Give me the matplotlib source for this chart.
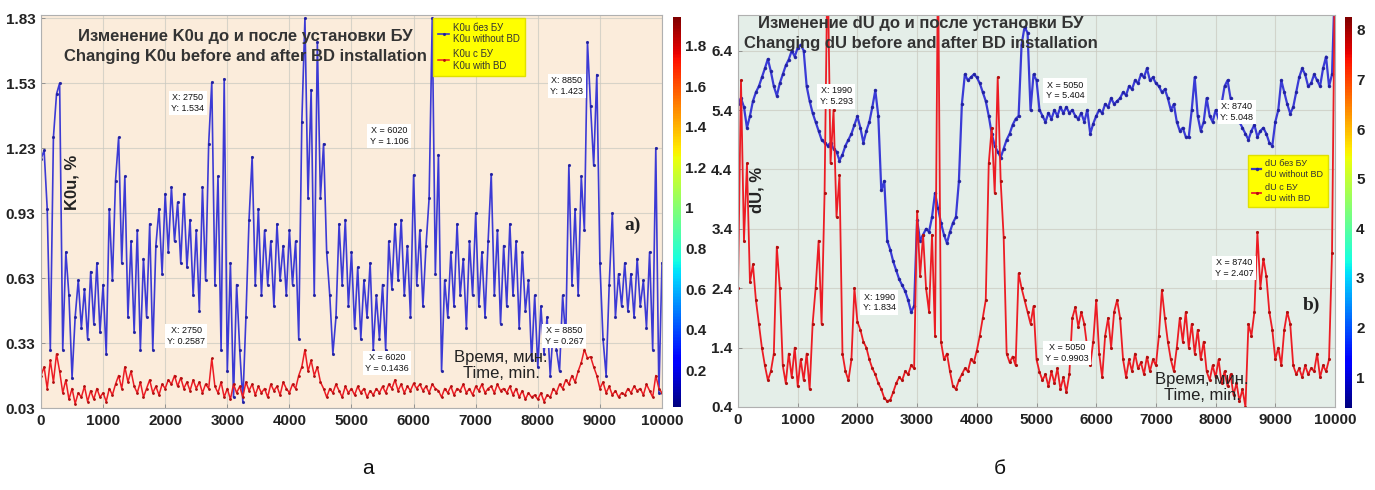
import numpy as np
import matplotlib
matplotlib.use("Agg")
import matplotlib.pyplot as plt
from matplotlib import cm, colors

plt.rcParams["font.family"] = ["Liberation Sans", "DejaVu Sans"]

# time axis, minutes (one reading every 50 min)
time_min = np.arange(0, 10001, 50)

# K0u, % without balancing device (blue)
k0u_without_bd = [
    1.18, 1.22, 0.95, 0.30, 1.28, 1.48, 1.53, 0.30, 0.75, 0.55,
    0.17, 0.45, 0.62, 0.40, 0.58, 0.35, 0.66, 0.42, 0.70, 0.38,
    0.60, 0.28, 0.95, 0.62, 1.08, 1.28, 0.70, 1.10, 0.45, 0.80,
    0.38, 0.85, 0.30, 0.72, 0.45, 0.88, 0.30, 0.78, 0.95, 0.65,
    1.02, 0.75, 1.05, 0.80, 0.98, 0.70, 1.02, 0.68, 0.90, 0.55,
    0.85, 0.48, 1.05, 0.62, 1.25, 1.534, 0.60, 1.10, 0.30, 1.55,
    0.20, 0.70, 0.08, 0.60, 0.30, 0.06, 0.45, 0.90, 1.19, 0.60,
    0.95, 0.55, 0.85, 0.60, 0.80, 0.50, 0.88, 0.62, 0.78, 0.55,
    0.85, 0.60, 0.80, 0.35, 1.35, 1.83, 1.00, 1.50, 0.55, 1.72,
    1.00, 1.25, 0.75, 0.55, 0.28, 0.45, 0.88, 0.60, 0.90, 0.50,
    0.75, 0.40, 0.68, 0.35, 0.62, 0.45, 0.70, 0.30, 0.55, 0.35,
    0.60, 0.30, 0.80, 0.58, 0.88, 0.62, 0.90, 0.55, 0.78, 0.45,
    1.106, 0.60, 0.85, 0.50, 0.78, 1.00, 1.83, 0.65, 1.20, 0.20,
    0.62, 0.45, 0.75, 0.50, 0.88, 0.55, 0.72, 0.40, 0.80, 0.55,
    0.93, 0.50, 0.75, 0.45, 0.80, 1.11, 0.55, 0.85, 0.42, 0.78,
    0.50, 0.88, 0.55, 0.80, 0.40, 0.75, 0.48, 0.62, 0.25, 0.55,
    0.22, 0.50, 0.28, 0.45, 0.18, 0.40, 0.30, 0.20, 0.55, 0.35,
    1.15, 0.60, 0.95, 0.55, 1.10, 0.85, 1.72, 1.423, 1.15, 1.57,
    0.70, 0.35, 0.18, 0.60, 0.93, 0.45, 0.65, 0.50, 0.70, 0.48,
    0.65, 0.45, 0.72, 0.50, 0.62, 0.40, 0.75, 0.30, 1.23, 0.10,
    0.70,
]

# K0u, % with balancing device (red)
k0u_with_bd = [
    0.18, 0.22, 0.12, 0.25, 0.15, 0.28, 0.20, 0.10, 0.16, 0.07,
    0.12, 0.05, 0.10, 0.08, 0.13, 0.06, 0.11, 0.07, 0.12, 0.08,
    0.10, 0.06, 0.12, 0.09, 0.14, 0.18, 0.12, 0.22, 0.15, 0.20,
    0.13, 0.10, 0.15, 0.08, 0.12, 0.16, 0.10, 0.13, 0.09, 0.14,
    0.12, 0.16, 0.14, 0.18, 0.13, 0.17, 0.12, 0.15, 0.11, 0.16,
    0.12, 0.15, 0.10, 0.14, 0.12, 0.2587, 0.13, 0.10, 0.15, 0.08,
    0.12, 0.07, 0.14, 0.10, 0.13, 0.08, 0.15, 0.11, 0.14, 0.09,
    0.13, 0.10, 0.12, 0.08, 0.14, 0.11, 0.13, 0.09, 0.15, 0.12,
    0.10, 0.14, 0.12, 0.18, 0.22, 0.30, 0.20, 0.25, 0.18, 0.22,
    0.15, 0.12, 0.08, 0.12, 0.10, 0.14, 0.11, 0.08, 0.13, 0.10,
    0.12, 0.09, 0.13, 0.10, 0.12, 0.08, 0.11, 0.09, 0.12, 0.10,
    0.13, 0.10, 0.14, 0.12, 0.16, 0.11, 0.14, 0.10, 0.13, 0.11,
    0.1436, 0.12, 0.14, 0.11, 0.13, 0.10, 0.14, 0.12, 0.11, 0.08,
    0.12, 0.10, 0.13, 0.09, 0.12, 0.11, 0.14, 0.10, 0.12, 0.09,
    0.13, 0.11, 0.14, 0.10, 0.12, 0.13, 0.10, 0.14, 0.11, 0.12,
    0.10, 0.13, 0.09, 0.12, 0.08, 0.11, 0.07, 0.10, 0.08, 0.09,
    0.07, 0.10, 0.06, 0.09, 0.08, 0.12, 0.10, 0.14, 0.12, 0.16,
    0.14, 0.18, 0.15, 0.20, 0.24, 0.30, 0.26, 0.267, 0.22, 0.18,
    0.12, 0.15, 0.10, 0.13, 0.09, 0.11, 0.08, 0.10, 0.09, 0.12,
    0.10, 0.13, 0.11, 0.12, 0.09, 0.14, 0.11, 0.08, 0.18, 0.12,
    0.10,
]

# dU, % without balancing device (blue)
du_without_bd = [
    5.50, 5.60, 5.45, 5.10, 5.30, 5.55, 5.70, 5.80, 5.95, 6.10,
    6.26, 6.05, 5.80, 5.64, 5.85, 6.00, 6.15, 6.25, 6.40, 6.30,
    6.45, 6.50, 6.40, 5.80, 5.55, 5.35, 5.20, 5.05, 4.90, 4.85,
    4.80, 4.85, 4.75, 4.70, 4.55, 4.65, 4.80, 4.90, 5.00, 5.15,
    5.293, 5.10, 4.85, 5.05, 5.20, 5.45, 5.73, 5.30, 4.05, 4.20,
    3.20, 3.05, 2.85, 2.70, 2.55, 2.45, 2.35, 2.20, 2.00, 2.10,
    3.55, 3.20, 3.30, 3.40, 3.35, 3.60, 4.00, 3.75, 3.50, 3.30,
    3.16, 3.35, 3.50, 3.60, 4.20, 5.50, 6.00, 5.90, 5.95, 6.00,
    5.95, 5.85, 5.70, 5.55, 5.30, 5.00, 4.80, 4.70, 4.60, 4.75,
    4.90, 5.00, 5.15, 5.25, 5.30, 6.50, 6.80, 6.70, 5.40, 6.00,
    5.90, 5.404, 5.30, 5.20, 5.35, 5.25, 5.40, 5.30, 5.45, 5.35,
    5.45, 5.35, 5.40, 5.30, 5.25, 5.35, 5.20, 5.40, 5.00, 5.17,
    5.30, 5.40, 5.35, 5.50, 5.45, 5.60, 5.50, 5.55, 5.60, 5.70,
    5.65, 5.80, 5.75, 5.90, 5.85, 6.00, 5.95, 6.10, 5.90, 5.95,
    5.85, 5.80, 5.70, 5.75, 5.60, 5.40, 5.50, 5.20, 5.05, 5.10,
    4.95, 4.94, 5.40, 5.95, 5.30, 5.05, 5.20, 5.60, 5.30, 5.20,
    5.40, 5.25, 5.50, 5.80, 5.90, 5.60, 5.45, 5.30, 5.20, 5.10,
    5.00, 4.90, 5.05, 5.15, 4.95, 5.048, 5.10, 5.00, 4.85, 4.80,
    5.20, 5.40, 5.90, 5.70, 5.50, 5.34, 5.45, 5.70, 5.95, 6.10,
    6.00, 5.80, 5.85, 6.00, 5.90, 5.80, 6.10, 6.30, 5.80, 6.00,
    7.60,
]

# dU, % with balancing device (red)
du_with_bd = [
    2.40, 5.90, 3.20, 4.50, 2.50, 2.80, 2.20, 1.80, 1.40, 1.10,
    0.85, 1.00, 1.30, 3.10, 2.40, 1.10, 0.80, 1.30, 0.90, 1.40,
    0.75, 1.20, 0.85, 1.30, 0.70, 1.80, 2.40, 3.20, 1.80, 4.00,
    8.00, 4.50, 5.40, 3.60, 4.30, 1.30, 1.00, 0.85, 1.20, 2.40,
    1.834, 1.70, 1.50, 1.40, 1.20, 1.05, 0.95, 0.80, 0.70, 0.55,
    0.50, 0.52, 0.65, 0.80, 0.90, 0.85, 1.00, 0.95, 1.10, 1.05,
    3.70, 2.60, 3.30, 2.40, 2.00, 3.30, 1.60, 8.00, 1.50, 1.20,
    1.30, 1.00, 0.75, 0.70, 0.85, 0.95, 1.05, 1.00, 1.20, 1.15,
    1.35, 1.60, 1.90, 2.20, 4.50, 5.10, 4.00, 5.95, 4.20, 3.26,
    1.30, 1.15, 1.25, 1.10, 2.65, 2.40, 2.20, 2.00, 1.80, 2.10,
    1.20, 0.9903, 0.85, 0.95, 0.75, 1.00, 0.80, 1.05, 0.70, 0.90,
    0.65, 0.95, 1.90, 2.08, 1.75, 2.00, 1.80, 1.40, 1.10, 1.50,
    2.20, 1.30, 0.90, 1.60, 1.90, 1.40, 2.00, 2.20, 1.90, 1.20,
    0.90, 1.20, 1.00, 1.30, 1.05, 1.15, 0.95, 1.25, 1.00, 1.20,
    1.10, 1.60, 2.37, 1.90, 1.50, 1.20, 1.00, 1.40, 1.90, 1.50,
    2.00, 1.40, 1.80, 1.30, 1.70, 1.20, 1.50, 1.00, 0.85, 1.10,
    0.90, 1.20, 0.80, 1.00, 0.75, 0.95, 0.60, 0.80, 0.50, 0.70,
    0.40, 1.80, 1.60, 2.00, 3.34, 2.407, 2.90, 2.60, 2.00, 1.70,
    1.20, 1.40, 1.10, 1.70, 2.00, 1.80, 1.10, 0.95, 1.05, 0.90,
    1.10, 0.95, 1.05, 1.00, 1.30, 0.90, 1.10, 1.00, 1.20, 3.00,
    8.00,
]

time_ticks = list(range(0, 10001, 1000))
k0u_ticks = [0.03, 0.33, 0.63, 0.93, 1.23, 1.53, 1.83]
du_ticks = [0.4, 1.4, 2.4, 3.4, 4.4, 5.4, 6.4]
k0u_cbar_ticks = [0.2, 0.4, 0.6, 0.8, 1.0, 1.2, 1.4, 1.6, 1.8]
du_cbar_ticks = [1, 2, 3, 4, 5, 6, 7, 8]

k0u_tip_labels = ["X: 2750\nY: 1.534", "X: 2750\nY: 0.2587",
                  "X = 6020\nY = 1.106", "X = 6020\nY = 0.1436",
                  "X: 8850\nY: 1.423", "X = 8850\nY = 0.267"]
du_tip_labels = ["X: 1990\nY: 5.293", "X: 1990\nY: 1.834",
                 "X = 5050\nY = 5.404", "X = 5050\nY = 0.9903",
                 "X: 8740\nY: 5.048", "X = 8740\nY = 2.407"]

BLUE = "#2727d4"
RED = "#ec1c24"
W, H = 1375, 490


def frac(x0, y0, x1, y1):
    # pixel box (top-left origin) -> figure fraction rect
    return [x0 / W, 1 - y1 / H, (x1 - x0) / W, (y1 - y0) / H]


fig = plt.figure(figsize=(13.75, 4.9), dpi=100)
fig.patch.set_facecolor("white")

ax1 = fig.add_axes(frac(41, 15, 662, 408))
ax2 = fig.add_axes(frac(738, 15, 1335, 407))
cax1 = fig.add_axes(frac(673, 17, 681, 407))
cax2 = fig.add_axes(frac(1345, 17, 1352, 408))


def style_axes(ax, face, yticks, yfmt, ylim):
    ax.set_facecolor(face)
    ax.set_xlim(0, 10000)
    ax.set_ylim(*ylim)
    ax.set_xticks(time_ticks)
    ax.set_xticklabels([str(t) for t in time_ticks])
    ax.set_yticks(yticks)
    ax.set_yticklabels([yfmt % v for v in yticks])
    ax.grid(True, color="#c9c9c0", lw=0.8, alpha=0.7)
    ax.set_axisbelow(True)
    ax.tick_params(direction="in", length=3, width=0.6, colors="#888888",
                   labelcolor="#222222", labelsize=11, pad=4)
    for lab in ax.get_xticklabels() + ax.get_yticklabels():
        lab.set_fontweight("bold")
    for s in ax.spines.values():
        s.set_color("#b0b0b0")
        s.set_linewidth(0.8)


# ---- panel a: K0u ----
style_axes(ax1, "#fbecdb", k0u_ticks, "%.2f", (0.03, 1.845))
ax1.plot(time_min, k0u_without_bd, color=BLUE, lw=1.2, alpha=0.9,
         marker=".", ms=2.5, mfc="#2020a0", mec="#2020a0",
         label="K0u без БУ\nK0u without BD")
ax1.plot(time_min, k0u_with_bd, color=RED, lw=1.1,
         marker=".", ms=2, mfc="#b01010", mec="#b01010",
         label="K0u с БУ\nK0u with BD")

ax1.text(3285, 1.70, "Изменение K0u до и после установки БУ\n"
         "Changing K0u before and after BD installation",
         ha="center", va="center", fontsize=12, fontweight="bold",
         color="#333333", linespacing=1.45)
ax1.text(500, 1.07, "K0u, %", rotation=90, ha="center", va="center",
         fontsize=12, fontweight="bold", color="#222222")
ax1.text(7410, 0.228, "Время, мин.\nTime, min.", ha="center", va="center",
         fontsize=12, color="#222222", linespacing=1.1)
ax1.text(9533, 0.875, "a)", ha="center", va="center", fontsize=14,
         fontweight="bold", family="Liberation Serif", color="#222222")

k0u_tip_pos = [(2367, 1.437), (2335, 0.362), (5604, 1.285),
               (5572, 0.238), (8470, 1.516), (8422, 0.362)]
for lab, (tx, ty) in zip(k0u_tip_labels, k0u_tip_pos):
    ax1.text(tx, ty, lab, ha="center", va="center", fontsize=6.5,
             color="#111111", linespacing=1.25,
             bbox=dict(boxstyle="square,pad=0.25", fc="white", ec="none"))

leg1 = ax1.legend(loc="upper left", bbox_to_anchor=(0.631, 0.993),
                  fontsize=7, frameon=True, fancybox=False, handlelength=1.2,
                  handletextpad=0.4, borderpad=0.5, labelspacing=0.5,
                  borderaxespad=0)
leg1.get_frame().set_facecolor("#ffff00")
leg1.get_frame().set_edgecolor("#e0e000")
leg1.get_frame().set_alpha(1)
for t in leg1.get_texts():
    t.set_color("#333333")

# ---- panel b: dU ----
style_axes(ax2, "#e4eee8", du_ticks, "%.1f", (0.4, 7.0))
ax2.plot(time_min, du_without_bd, color=BLUE, lw=1.6, alpha=0.9,
         marker=".", ms=3, mfc="#2020a0", mec="#2020a0",
         label="dU без БУ\ndU without BD")
ax2.plot(time_min, du_with_bd, color=RED, lw=1.3,
         marker=".", ms=2.5, mfc="#b01010", mec="#b01010",
         label="dU с БУ\ndU with BD")

ax2.text(3065, 6.69, "Изменение dU до и после установки БУ\n"
         "Changing dU before and after BD installation",
         ha="center", va="center", fontsize=12, fontweight="bold",
         color="#333333", linespacing=1.45)
ax2.text(318, 4.05, "dU, %", rotation=90, ha="center", va="center",
         fontsize=12, fontweight="bold", color="#222222")
ax2.text(7772, 0.73, "Время, мин.\nTime, min.", ha="center", va="center",
         fontsize=12, color="#222222", linespacing=1.1)
ax2.text(9598, 2.11, "b)", ha="center", va="center", fontsize=14,
         fontweight="bold", family="Liberation Serif", color="#222222")

du_tip_pos = [(1642, 5.63), (2362, 2.16), (5477, 5.73),
              (5511, 1.31), (8358, 5.37), (8308, 2.74)]
for lab, (tx, ty) in zip(du_tip_labels, du_tip_pos):
    ax2.text(tx, ty, lab, ha="center", va="center", fontsize=6.5,
             color="#111111", linespacing=1.25,
             bbox=dict(boxstyle="square,pad=0.25", fc="white", ec="none"))

leg2 = ax2.legend(loc="upper left", bbox_to_anchor=(0.854, 0.643),
                  fontsize=6.5, frameon=True, fancybox=False,
                  handlelength=1.0, handletextpad=0.4, borderpad=0.5,
                  labelspacing=0.5, borderaxespad=0)
leg2.get_frame().set_facecolor("#ffff00")
leg2.get_frame().set_edgecolor("#e0e000")
leg2.get_frame().set_alpha(1)
for t in leg2.get_texts():
    t.set_color("#333333")

# ---- colorbars ----
for cax, lims, ticks, fmt in [(cax1, (0.02, 1.94), k0u_cbar_ticks, "%g"),
                              (cax2, (0.38, 8.26), du_cbar_ticks, "%d")]:
    sm = cm.ScalarMappable(norm=colors.Normalize(*lims), cmap="jet")
    cb = fig.colorbar(sm, cax=cax, ticks=ticks)
    cb.outline.set_linewidth(0)
    cb.ax.tick_params(length=0, pad=3, labelsize=11, labelcolor="#222222")
    cb.ax.set_yticklabels([fmt % t for t in ticks])
    for lab in cb.ax.get_yticklabels():
        lab.set_fontweight("bold")

fig.text(368 / W, 1 - 468 / H, "а", ha="center", va="center", fontsize=15,
         color="#111111")
fig.text(1000 / W, 1 - 468 / H, "б", ha="center", va="center", fontsize=15,
         color="#111111")

fig.savefig("out.png", dpi=100)
